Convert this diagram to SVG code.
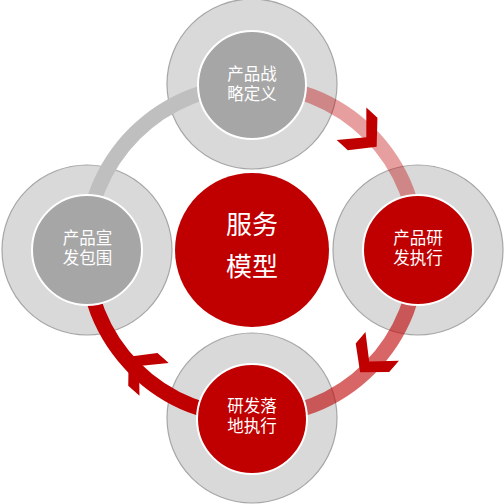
<svg xmlns="http://www.w3.org/2000/svg" width="504" height="504" viewBox="0 0 504 504">
<style>
.outer{fill:#d9d9d9;stroke:#a6a6a6;stroke-width:1.2}
.inner-g{fill:#a6a6a6;stroke:#ffffff;stroke-width:2}
.inner-r{fill:#c00000;stroke:#ffffff;stroke-width:2}
.arc{fill:none;stroke-width:15}
.lbl{font-family:"Liberation Sans","Noto Sans CJK SC",sans-serif;font-size:16.5px;fill:#ffffff;text-anchor:middle}
.big{font-family:"Liberation Sans","Noto Sans CJK SC",sans-serif;font-size:26px;fill:#ffffff;text-anchor:middle}
.chev{fill:#c00000}
</style>
<defs>
<polygon id="chevron" points="22,0 3,22 -12,22 8,0 -12,-22 3,-22"/>
</defs>
<g id="outer-rings">
<circle class="outer" cx="252" cy="84" r="85"/>
<circle class="outer" cx="418" cy="250" r="85"/>
<circle class="outer" cx="252" cy="418" r="85"/>
<circle class="outer" cx="87" cy="250" r="85"/>
</g>
<g id="connectors">
<path class="arc" stroke="#bfbfbf" d="M86,251 A166,166 0 0 1 252,85"/>
<path class="arc" stroke="#c00000" stroke-opacity="0.38" d="M252,85 A166,166 0 0 1 418,251"/>
<path class="arc" stroke="#c00000" stroke-opacity="0.6" d="M418,251 A166,166 0 0 1 252,417"/>
<path class="arc" stroke="#c00000" d="M252,417 A166,166 0 0 1 86,251"/>
<use href="#chevron" class="chev" transform="translate(360.4,131.9) rotate(42.3)"/>
<use href="#chevron" class="chev" transform="translate(374.4,355.5) rotate(130.5)"/>
<use href="#chevron" class="chev" transform="translate(145.1,371.4) rotate(221.6)"/>
</g>
<g id="center">
<circle cx="252" cy="250" r="77" fill="#c00000"/>
<text class="big" x="252" y="234">服务</text>
<text class="big" x="252" y="276">模型</text>
</g>
<g id="node-top">
<circle class="inner-g" cx="252" cy="85" r="54"/>
<text class="lbl" x="252" y="80">产品战<tspan x="252" dy="20">略定义</tspan></text>
</g>
<g id="node-right">
<circle class="inner-r" cx="418" cy="250" r="55"/>
<text class="lbl" x="418" y="243.5">产品研<tspan x="418" dy="20">发执行</tspan></text>
</g>
<g id="node-bottom">
<circle class="inner-r" cx="252" cy="419" r="55"/>
<text class="lbl" x="252" y="411.5">研发落<tspan x="252" dy="20">地执行</tspan></text>
</g>
<g id="node-left">
<circle class="inner-g" cx="87" cy="250" r="55"/>
<text class="lbl" x="87.5" y="243.5">产品宣<tspan x="87.5" dy="20">发包围</tspan></text>
</g>
</svg>
